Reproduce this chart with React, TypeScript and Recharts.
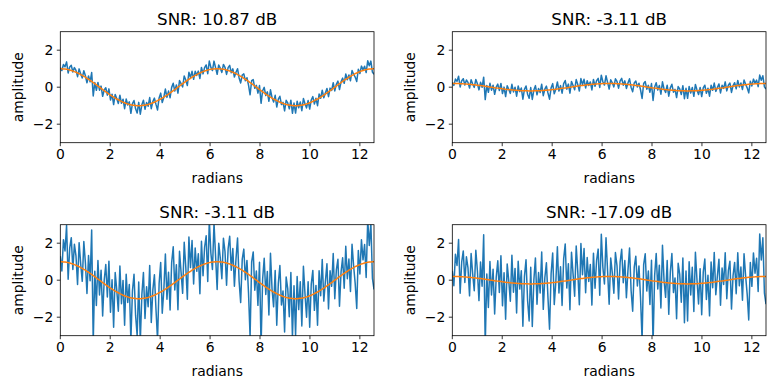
import React from 'react';
import { LineChart, Line, XAxis, YAxis } from 'recharts';

// Unit noise component (same noise pattern in all four panels)
const noise = [
  0.3, -0.5, 1.2, 0.6, 2.0, -0.9, 0.8, 1.4, -0.3, 1.1,
  0.5, -1.0, 1.3, 0.2, -0.7, 1.5, 0.4, -1.2, 0.9, -0.4,
  2.4, -3.6, 0.3, -1.5, 1.0, -0.8, 0.6, -1.8, 0.2, 1.1,
  -0.6, 1.4, -1.3, 0.5, -2.0, 1.0, 0.1, -1.0, 1.5, -0.5,
  0.8, -1.6, 1.2, -0.3, 0.7, -2.3, 0.4, 1.3, -0.9, -2.0,
  0.9, -2.3, 0.2, 1.4, -1.1, 0.6, -0.5, 1.7, -1.4, 0.3,
  1.1, -0.8, -2.5, 0.5, 1.6, -1.2, 0.0, 1.9, -0.6, 0.8,
  -1.3, 1.2, 2.0, -0.4, 0.9, -1.6, 1.5, 0.3, -0.9, 1.8,
  0.4, -1.4, 1.9, 0.2, 1.6, -0.8, 1.1, -0.2, 0.7, -1.5,
  1.3, -0.6, 0.9, 1.5, -1.0, 2.3, 0.5, -0.4, 2.1, 0.3,
  -1.5, 1.0, 0.2, -0.9, 1.3, 0.6, -1.2, 0.8, 1.5, -0.3,
  0.9, -1.1, 0.4, 1.6, -0.7, -1.8, 0.6, 1.2, -0.4, 0.7,
  -1.0, -3.3, 0.8, 1.4, -0.6, 0.5, -1.3, 1.1, -3.4, 0.3,
  1.5, -0.4, 0.9, -1.4, 2.0, 0.1, -0.8, 1.2, -1.7, 0.6,
  1.6, -0.5, 0.3, -1.9, 1.1, 0.5, -1.0, 1.4, -2.1, 0.7,
  -2.0, 1.2, -0.6, 0.9, -1.5, 1.7, 0.2, -1.1, 0.8, -1.7,
  0.6, 1.3, -0.9, 0.4, -1.8, 1.1, -0.3, 1.6, -0.7, 0.3,
  1.2, -1.3, 0.7, -0.2, 1.5, -1.0, 0.5, 1.0, -1.6, 0.2,
  0.9, -0.8, 1.4, -0.4, 0.6, -1.2, 1.3, 0.1, -0.9, -2.3,
  0.8, -0.5, 1.3, 0.2, 1.0, -0.8, 2.3, 0.9, 2.1, -0.9,
  -1.5,
];

// Clean unit cosine (orange trace) read at the same sample positions
const cosine = [
  1.00, 1.00, 0.99, 0.98, 0.97, 0.95, 0.93, 0.90, 0.88, 0.84, 0.81, 0.77, 0.73, 0.68, 0.64, 0.59, 0.54, 0.48, 0.43, 0.37, 0.31, 0.25, 0.19, 0.13, 0.06, 0.00,
  -0.06, -0.13, -0.19, -0.25, -0.31, -0.37, -0.43, -0.48, -0.54, -0.59, -0.64, -0.68, -0.73, -0.77, -0.81, -0.84, -0.88, -0.90, -0.93, -0.95, -0.97, -0.98, -0.99, -1.00, -1.00,
  -1.00, -0.99, -0.98, -0.97, -0.95, -0.93, -0.90, -0.88, -0.84, -0.81, -0.77, -0.73, -0.68, -0.64, -0.59, -0.54, -0.48, -0.43, -0.37, -0.31, -0.25, -0.19, -0.13, -0.06, 0.00,
  0.06, 0.13, 0.19, 0.25, 0.31, 0.37, 0.43, 0.48, 0.54, 0.59, 0.64, 0.68, 0.73, 0.77, 0.81, 0.84, 0.88, 0.90, 0.93, 0.95, 0.97, 0.98, 0.99, 1.00, 1.00,
  1.00, 0.99, 0.98, 0.97, 0.95, 0.93, 0.90, 0.88, 0.84, 0.81, 0.77, 0.73, 0.68, 0.64, 0.59, 0.54, 0.48, 0.43, 0.37, 0.31, 0.25, 0.19, 0.13, 0.06, 0.00,
  -0.06, -0.13, -0.19, -0.25, -0.31, -0.37, -0.43, -0.48, -0.54, -0.59, -0.64, -0.68, -0.73, -0.77, -0.81, -0.84, -0.88, -0.90, -0.93, -0.95, -0.97, -0.98, -0.99, -1.00, -1.00,
  -1.00, -0.99, -0.98, -0.97, -0.95, -0.93, -0.90, -0.88, -0.84, -0.81, -0.77, -0.73, -0.68, -0.64, -0.59, -0.54, -0.48, -0.43, -0.37, -0.31, -0.25, -0.19, -0.13, -0.06, 0.00,
  0.06, 0.13, 0.19, 0.25, 0.31, 0.37, 0.43, 0.48, 0.54, 0.59, 0.64, 0.68, 0.73, 0.77, 0.81, 0.84, 0.88, 0.90, 0.93, 0.95, 0.97, 0.98, 0.99, 1.00, 1.00,
];

const X_MAX = 12.566;
const xTicks = [0, 2, 4, 6, 8, 10, 12];
const yTicks = [-2, 0, 2];

const panelTitles = ['SNR: 10.87 dB', 'SNR: -3.11 dB', 'SNR: -3.11 dB', 'SNR: -17.09 dB'];
const signalGains = [1, 0.2, 1, 0.2];
const noiseGains = [0.2, 0.2, 1, 1];

const FONT = '"DejaVu Sans", sans-serif';
const BLUE = '#1f77b4';
const ORANGE = '#ff7f0e';

const W = 388;
const H = 194;
const PL = 60.3;
const PR = 374;
const PT = 31.7;
const PB = 142.7;

const fmt = (v: number) => String(v).replace('-', '\u2212');

function Panel({ idx, left, top }: { idx: number; left: number; top: number }) {
  const sg = signalGains[idx];
  const ng = noiseGains[idx];
  const data = noise.map((n, i) => ({
    x: (i * X_MAX) / (noise.length - 1),
    noisy: sg * cosine[i] + ng * n,
    clean: sg * cosine[i],
  }));
  const tickStyle = { fill: '#000', fontSize: 13.9, fontFamily: FONT };
  return (
    <div style={{ position: 'absolute', left, top, width: W, height: H }}>
      <LineChart
        width={W}
        height={H}
        data={data}
        margin={{ top: PT, right: W - PR, bottom: H - PB - 30, left: 0 }}
      >
        <XAxis
          dataKey="x"
          type="number"
          domain={[0, X_MAX]}
          ticks={xTicks}
          allowDataOverflow
          height={30}
          tickSize={3.5}
          tickMargin={3}
          axisLine={false}
          tickLine={{ stroke: '#000', strokeWidth: 0.8 }}
          tick={tickStyle}
          tickFormatter={fmt}
          interval={0}
        />
        <YAxis
          type="number"
          domain={[-3, 3]}
          ticks={yTicks}
          allowDataOverflow
          width={PL}
          tickSize={3.5}
          tickMargin={3.5}
          axisLine={false}
          tickLine={{ stroke: '#000', strokeWidth: 0.8 }}
          tick={tickStyle}
          tickFormatter={fmt}
          interval={0}
        />
        <Line
          type="linear"
          dataKey="noisy"
          stroke={BLUE}
          strokeWidth={1.5}
          dot={false}
          isAnimationActive={false}
          strokeLinejoin="round"
        />
        <Line
          type="linear"
          dataKey="clean"
          stroke={ORANGE}
          strokeWidth={1.5}
          dot={false}
          isAnimationActive={false}
        />
      </LineChart>
      <svg
        width={W}
        height={H}
        style={{ position: 'absolute', left: 0, top: 0, pointerEvents: 'none' }}
      >
        <rect x={PL} y={PT} width={PR - PL} height={PB - PT} fill="none" stroke="#000" strokeWidth={0.8} />
        <text x={(PL + PR) / 2} y={24.5} textAnchor="middle" fontSize={16.7} fontFamily={FONT} fill="#000">
          {panelTitles[idx]}
        </text>
        <text x={(PL + PR) / 2} y={182.5} textAnchor="middle" fontSize={13.9} fontFamily={FONT} fill="#000">
          radians
        </text>
        <text
          x={0}
          y={0}
          transform={`translate(17.5, ${(PT + PB) / 2}) rotate(-90)`}
          textAnchor="middle"
          dominantBaseline="central"
          fontSize={13.9}
          fontFamily={FONT}
          fill="#000"
        >
          amplitude
        </text>
      </svg>
    </div>
  );
}

export default function App() {
  return (
    <div
      style={{
        position: 'absolute',
        left: 0,
        top: 0,
        width: 776,
        height: 389,
        background: '#fff',
        fontFamily: FONT,
        overflow: 'hidden',
      }}
    >
      <Panel idx={0} left={0} top={0} />
      <Panel idx={1} left={392} top={0} />
      <Panel idx={2} left={0} top={192.6} />
      <Panel idx={3} left={392} top={192.6} />
    </div>
  );
}
